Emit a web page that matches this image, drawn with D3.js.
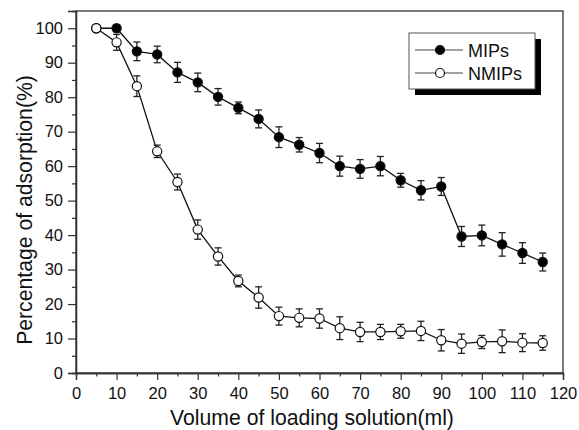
<!DOCTYPE html>
<html>
<head>
<meta charset="utf-8">
<script src="https://cdn.jsdelivr.net/npm/d3@7"></script>
<style>
  html, body { margin: 0; padding: 0; background: #fff; }
  svg { display: block; font-family: "Liberation Sans", Arial, Helvetica, sans-serif; }
</style>
</head>
<body>
<svg id="chart" width="579" height="430"></svg>
<script>
// Loading volume (ml)
const volume = [5, 10, 15, 20, 25, 30, 35, 40, 45, 50, 55, 60, 65, 70, 75, 80, 85, 90, 95, 100, 105, 110, 115];

// Percentage of adsorption (%) and error (±)
const mipsValues  = [100, 100, 93.3, 92.4, 87.2, 84.3, 80.1, 76.9, 73.7, 68.4, 66.2, 63.8, 60.0, 59.2, 60.0, 55.9, 53.0, 54.1, 39.6, 39.9, 37.3, 34.8, 32.2];
const mipsErrors  = [0.5, 1.0, 2.7, 2.4, 2.9, 2.7, 2.4, 1.7, 2.6, 3.0, 2.1, 2.8, 2.9, 2.7, 2.8, 2.0, 2.8, 2.6, 2.9, 3.0, 3.4, 3.0, 2.6];
const nmipsValues = [100, 95.9, 83.2, 64.3, 55.4, 41.6, 33.8, 26.7, 21.9, 16.5, 16.0, 15.8, 13.0, 11.9, 11.9, 12.1, 12.2, 9.5, 8.5, 9.0, 9.2, 8.8, 8.7];
const nmipsErrors = [0.5, 2.3, 3.0, 1.8, 2.3, 2.8, 2.5, 1.7, 3.1, 2.6, 2.6, 2.8, 3.3, 2.8, 2.2, 2.0, 2.8, 3.1, 2.8, 1.9, 3.3, 2.6, 2.1];

const seriesNames = ["MIPs", "NMIPs"];
const xTicks = [0, 10, 20, 30, 40, 50, 60, 70, 80, 90, 100, 110, 120];
const yTicks = [0, 10, 20, 30, 40, 50, 60, 70, 80, 90, 100];
const xTitle = "Volume of loading solution(ml)";
const yTitle = "Percentage of adsorption(%)";

const svg = d3.select("#chart");
const plotL = 76, plotR = 563, plotT = 11, plotB = 373;

const x = d3.scaleLinear().domain([0, 120]).range([plotL, plotR]);
const y = d3.scaleLinear().domain([0, 105]).range([plotB, plotT]);

// frame
svg.append("rect")
  .attr("x", plotL).attr("y", plotT)
  .attr("width", plotR - plotL).attr("height", plotB - plotT)
  .attr("fill", "none").attr("stroke", "#333").attr("stroke-width", 1.3);

// x axis: major and minor ticks pointing down
const xAxis = svg.append("g").attr("transform", `translate(0,${plotB})`);
xAxis.append("g").call(d3.axisBottom(x).tickValues(d3.range(5, 120, 10)).tickSize(3.5).tickFormat(""));
xAxis.append("g").call(d3.axisBottom(x).tickValues(xTicks).tickSize(7).tickPadding(7).tickFormat(d3.format("d")));
xAxis.selectAll(".domain").attr("stroke", "#333").attr("stroke-width", 1.3);
xAxis.selectAll(".tick line").attr("stroke", "#333").attr("stroke-width", 1.2);
xAxis.selectAll("text").attr("font-size", 16.5).attr("fill", "#111")
  .attr("font-family", "Liberation Sans, Arial, sans-serif");

// y axis
const yAxis = svg.append("g").attr("transform", `translate(${plotL},0)`);
yAxis.append("g").call(d3.axisLeft(y).tickValues(d3.range(5, 105, 10)).tickSize(4).tickFormat(""));
yAxis.append("g").call(d3.axisLeft(y).tickValues(yTicks).tickSize(8).tickPadding(5).tickFormat(d3.format("d")));
yAxis.selectAll(".domain").attr("stroke", "#333").attr("stroke-width", 1.3);
yAxis.selectAll(".tick line").attr("stroke", "#333").attr("stroke-width", 1.2);
yAxis.selectAll("text").attr("font-size", 16.5).attr("fill", "#111")
  .attr("font-family", "Liberation Sans, Arial, sans-serif");

// axis titles
svg.append("text")
  .attr("x", 312).attr("y", 425)
  .attr("text-anchor", "middle").attr("font-size", 21.2).attr("fill", "#111")
  .text(xTitle);
svg.append("text")
  .attr("transform", `translate(32,210) rotate(-90)`)
  .attr("text-anchor", "middle").attr("font-size", 21.2).attr("fill", "#111")
  .text(yTitle);

// series
const series = [
  { name: seriesNames[0], values: mipsValues, errors: mipsErrors, fill: "#000" },
  { name: seriesNames[1], values: nmipsValues, errors: nmipsErrors, fill: "#fff" }
];

const line = d3.line().x(d => x(d.v)).y(d => y(d.p));
const capW = 3.5;

series.forEach(s => {
  const pts = volume.map((v, i) => ({ v, p: s.values[i], e: s.errors[i] }));
  const g = svg.append("g");

  g.append("path").datum(pts)
    .attr("d", line).attr("fill", "none")
    .attr("stroke", "#111").attr("stroke-width", 1.3);

  const eb = g.selectAll(".eb").data(pts).join("g").attr("stroke", "#222").attr("stroke-width", 1.3);
  eb.append("line")
    .attr("x1", d => x(d.v)).attr("x2", d => x(d.v))
    .attr("y1", d => y(d.p - d.e)).attr("y2", d => y(d.p + d.e));
  eb.append("line")
    .attr("x1", d => x(d.v) - capW).attr("x2", d => x(d.v) + capW)
    .attr("y1", d => y(d.p + d.e)).attr("y2", d => y(d.p + d.e));
  eb.append("line")
    .attr("x1", d => x(d.v) - capW).attr("x2", d => x(d.v) + capW)
    .attr("y1", d => y(d.p - d.e)).attr("y2", d => y(d.p - d.e));

  s.g = g; s.pts = pts;
});

series.forEach(s => {
  s.g.selectAll("circle").data(s.pts).join("circle")
    .attr("cx", d => x(d.v)).attr("cy", d => y(d.p)).attr("r", 4.6)
    .attr("fill", s.fill).attr("stroke", "#111").attr("stroke-width", 1.2);
});

// legend with drop shadow
const lg = svg.append("g");
lg.append("rect").attr("x", 415).attr("y", 39).attr("width", 126).attr("height", 56).attr("fill", "#000");
lg.append("rect").attr("x", 409).attr("y", 33).attr("width", 126).attr("height", 56)
  .attr("fill", "#fff").attr("stroke", "#555").attr("stroke-width", 1);
series.forEach((s, i) => {
  const ly = 50 + i * 23;
  lg.append("line").attr("x1", 415).attr("x2", 463).attr("y1", ly).attr("y2", ly)
    .attr("stroke", "#444").attr("stroke-width", 1.2);
  lg.append("circle").attr("cx", 440).attr("cy", ly).attr("r", 4.5)
    .attr("fill", s.fill).attr("stroke", "#111").attr("stroke-width", 1.2);
  lg.append("text").attr("x", 468).attr("y", ly + 6.5)
    .attr("font-size", 18).attr("fill", "#111").text(s.name);
});
</script>
</body>
</html>
